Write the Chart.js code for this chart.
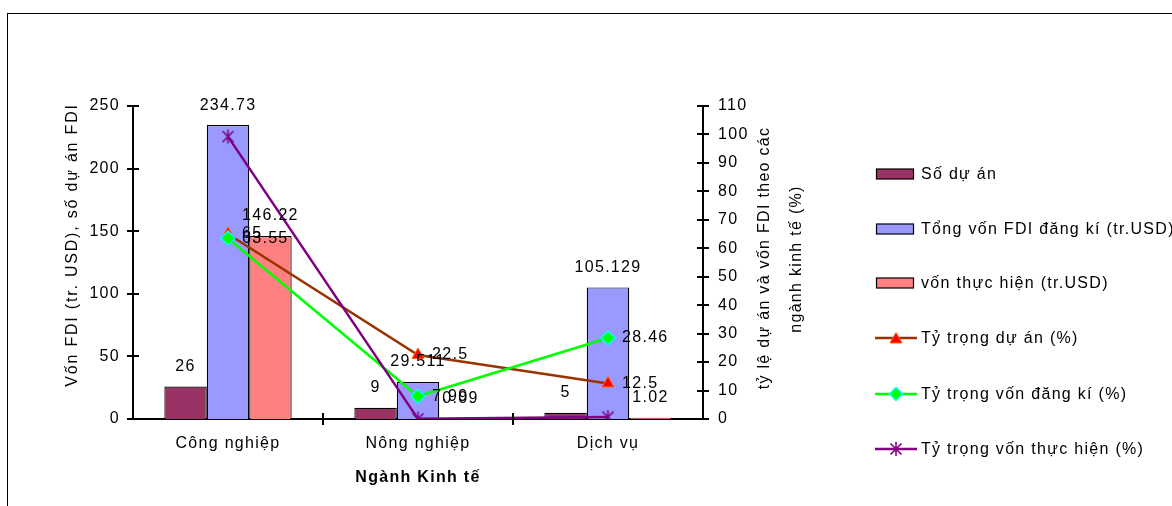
<!DOCTYPE html>
<html><head><meta charset="utf-8">
<script src="https://cdn.jsdelivr.net/npm/chart.js@4"></script>
<style>
html,body{margin:0;padding:0;background:#fff;overflow:hidden;}
#wrap{position:relative;width:1172px;height:506px;overflow:hidden;}
#frame{position:absolute;left:7px;top:13px;width:1300px;height:600px;border:1px solid #000;box-sizing:border-box;}
#c{position:absolute;left:0;top:0;}
.leg{position:absolute;left:875px;height:20px;display:flex;align-items:center;font:16px "Liberation Sans",Arial,sans-serif;letter-spacing:1.3px;color:#000;white-space:nowrap;}
.leg svg{margin-right:4px;display:block;}
</style></head>
<body><div id="wrap"><div id="frame"></div><canvas id="c" width="1172" height="506"></canvas><div id="legend"></div></div>
<script>
// ---- data ----
const categories = ['Công nghiệp', 'Nông nghiệp', 'Dịch vụ'];
const soDuAn = [26, 9, 5];
const tongVonDangKi = [234.73, 29.511, 105.129];
const vonThucHien = [146.22, 0.09, 1.02];
const tyTrongDuAn = [65, 22.5, 12.5];
const tyTrongVonDangKi = [63.55, 7.99, 28.46];
const tyTrongVonThucHien = [99.25, 0.06, 0.69];
const seriesNames = ['Số dự án', 'Tổng vốn FDI đăng kí (tr.USD)', 'vốn thực hiện (tr.USD)',
  'Tỷ trọng dự án (%)', 'Tỷ trọng vốn đăng kí (%)', 'Tỷ trọng vốn thực hiện (%)'];
const leftTitle = 'Vốn FDI (tr. USD), số dự án FDI';
const rightTitle = ['tỷ lệ dự án và vốn FDI theo các', 'ngành kinh tế (%)'];
const xTitle = 'Ngành Kinh tế';

const FONT = '"Liberation Sans", Arial, sans-serif';
const LS = '1.3px';

// star marker (X + vertical bar)
const star = document.createElement('canvas');
star.width = 15; star.height = 15;
(function(){
  const g = star.getContext('2d');
  g.strokeStyle = '#800080'; g.lineWidth = 1.6;
  g.beginPath();
  g.moveTo(2,2); g.lineTo(13,13);
  g.moveTo(13,2); g.lineTo(2,13);
  g.moveTo(7.5,0.5); g.lineTo(7.5,14.5);
  g.stroke();
})();

const annot = {
  id: 'annot',
  beforeDraw(chart){ chart.ctx.letterSpacing = LS; },
  afterDatasetsDraw(chart){
    const ctx = chart.ctx;
    ctx.save();
    ctx.letterSpacing = LS;
    ctx.font = '16px ' + FONT;
    ctx.fillStyle = '#000';
    chart.data.datasets.forEach((ds, i) => {
      const meta = chart.getDatasetMeta(i);
      if (ds.type === 'bar') {
        ctx.textAlign = 'center'; ctx.textBaseline = 'middle';
        meta.data.forEach((el, j) => ctx.fillText(String(ds.data[j]), el.x, el.y - 20));
      } else if (ds.showLabels) {
        ctx.textAlign = 'left'; ctx.textBaseline = 'middle';
        meta.data.forEach((el, j) => ctx.fillText(String(ds.data[j]), el.x + 14, el.y));
      }
    });
    ctx.restore();
  },
  afterDraw(chart){
    const ctx = chart.ctx, ca = chart.chartArea;
    ctx.save();
    ctx.strokeStyle = '#000'; ctx.lineWidth = 2;
    ctx.beginPath();
    const ys = chart.scales.y, y1 = chart.scales.y1, xs = chart.scales.x;
    ys.ticks.forEach(t => { const p = Math.round(ys.getPixelForValue(t.value)); ctx.moveTo(ca.left - 6, p); ctx.lineTo(ca.left + 6, p); });
    y1.ticks.forEach(t => { const p = Math.round(y1.getPixelForValue(t.value)); ctx.moveTo(ca.right - 6, p); ctx.lineTo(ca.right + 6, p); });
    const n = categories.length;
    for (let k = 1; k < n; k++) {
      const p = Math.round((xs.getPixelForValue(k - 1) + xs.getPixelForValue(k)) / 2);
      ctx.moveTo(p, ca.bottom - 6); ctx.lineTo(p, ca.bottom + 6);
    }
    ctx.stroke();
    ctx.fillStyle = '#000';
    ctx.font = '16px ' + FONT;
    ctx.textAlign = 'center'; ctx.textBaseline = 'alphabetic';
    ctx.letterSpacing = '1.8px';
    ctx.save(); ctx.translate(77, 245); ctx.rotate(-Math.PI/2); ctx.fillText(leftTitle, 0, 0); ctx.restore();
    ctx.letterSpacing = LS;
    ctx.save(); ctx.translate(769, 258); ctx.rotate(-Math.PI/2); ctx.fillText(rightTitle[0], 0, 0); ctx.restore();
    ctx.save(); ctx.translate(801, 259); ctx.rotate(-Math.PI/2); ctx.fillText(rightTitle[1], 0, 0); ctx.restore();
    ctx.font = 'bold 16px ' + FONT;
    ctx.fillText(xTitle, (ca.left + ca.right) / 2, 482);
    ctx.restore();
  }
};

const tickFont = { family: FONT, size: 16 };
new Chart(document.getElementById('c'), {
  type: 'bar',
  data: {
    labels: categories,
    datasets: [
      { type: 'bar', label: seriesNames[0], data: soDuAn, yAxisID: 'y', order: 4,
        backgroundColor: '#993366', borderColor: '#000', borderWidth: 1.2, categoryPercentage: 0.67, barPercentage: 1 },
      { type: 'bar', label: seriesNames[1], data: tongVonDangKi, yAxisID: 'y', order: 5,
        backgroundColor: '#9999FF', borderColor: '#000', borderWidth: 1.2, categoryPercentage: 0.67, barPercentage: 1 },
      { type: 'bar', label: seriesNames[2], data: vonThucHien, yAxisID: 'y', order: 6,
        backgroundColor: '#FF8080', borderColor: '#000', borderWidth: 1.2, categoryPercentage: 0.67, barPercentage: 1 },
      { type: 'line', label: seriesNames[3], data: tyTrongDuAn, yAxisID: 'y1', order: 3, showLabels: true,
        borderColor: '#993300', borderWidth: 2.5, tension: 0, pointStyle: 'triangle', pointRadius: 7,
        pointBackgroundColor: '#FF0000', pointBorderColor: '#FF6600', pointBorderWidth: 1 },
      { type: 'line', label: seriesNames[4], data: tyTrongVonDangKi, yAxisID: 'y1', order: 2, showLabels: true,
        borderColor: '#00FF00', borderWidth: 2.5, tension: 0, pointStyle: 'rectRot', pointRadius: 7,
        pointBackgroundColor: '#00FF00', pointBorderColor: '#00FFFF', pointBorderWidth: 1.5 },
      { type: 'line', label: seriesNames[5], data: tyTrongVonThucHien, yAxisID: 'y1', order: 1, showLabels: false,
        borderColor: '#800080', borderWidth: 2.5, tension: 0, pointStyle: star, pointRadius: 7 }
    ]
  },
  options: {
    responsive: false, animation: false, devicePixelRatio: 1,
    layout: { padding: { top: 106, left: 0, right: 349, bottom: 17 } },
    plugins: { legend: { display: false }, tooltip: { enabled: false } },
    scales: {
      x: {
        grid: { display: false, drawTicks: false },
        border: { display: true, color: '#000', width: 2 },
        ticks: { font: tickFont, color: '#000', padding: 15, maxRotation: 0 },
        afterFit(s) { s.height = 70; }
      },
      y: {
        position: 'left', min: 0, max: 250,
        grid: { display: false, drawTicks: false },
        border: { display: true, color: '#000', width: 2 },
        ticks: { stepSize: 50, font: tickFont, color: '#000', padding: 13 },
        afterFit(s) { s.width = 133; }
      },
      y1: {
        position: 'right', min: 0, max: 110,
        grid: { display: false, drawTicks: false },
        border: { display: true, color: '#000', width: 2 },
        ticks: { stepSize: 10, font: tickFont, color: '#000', padding: 15 },
        afterFit(s) { s.width = 120; }
      }
    }
  },
  plugins: [annot]
});

// ---- HTML legend ----
const legendCenters = [173.5, 229, 283, 338, 394, 449];
const legendSymbols = [
  { kind: 'bar', fill: '#993366' },
  { kind: 'bar', fill: '#9999FF' },
  { kind: 'bar', fill: '#FF8080' },
  { kind: 'line', color: '#993300', marker: '<polygon points="21,1.5 27,12 15,12" fill="#FF0000" stroke="#FF6600" stroke-width="1"/>' },
  { kind: 'line', color: '#00FF00', marker: '<polygon points="21,0.5 27.5,7 21,13.5 14.5,7" fill="#00FF00" stroke="#00FFFF" stroke-width="1.5"/>' },
  { kind: 'line', color: '#800080', marker: '<path d="M15.5,1.5 L26.5,12.5 M26.5,1.5 L15.5,12.5 M21,0 L21,14" stroke="#800080" stroke-width="1.6"/>' }
];
const legendEl = document.getElementById('legend');
seriesNames.forEach((name, i) => {
  const s = legendSymbols[i];
  const svg = s.kind === 'bar'
    ? '<svg width="42" height="14"><rect x="1.5" y="2" width="37" height="10" fill="' + s.fill + '" stroke="#000" stroke-width="1.2"/></svg>'
    : '<svg width="42" height="14"><line x1="0" y1="7" x2="42" y2="7" stroke="' + s.color + '" stroke-width="2.5"/>' + s.marker + '</svg>';
  const d = document.createElement('div');
  d.className = 'leg';
  d.style.top = (legendCenters[i] - 10) + 'px';
  d.innerHTML = svg + '<span></span>';
  d.querySelector('span').textContent = name;
  legendEl.appendChild(d);
});
</script>
</body></html>
